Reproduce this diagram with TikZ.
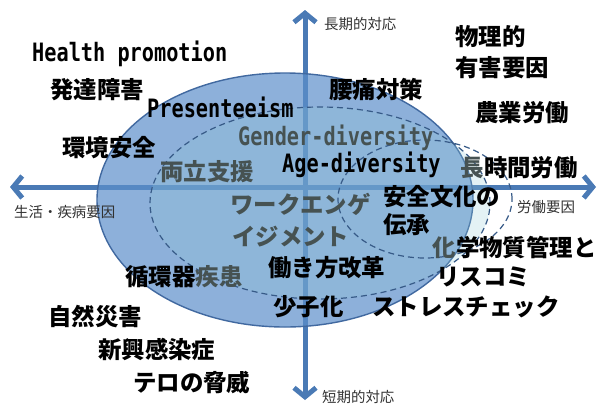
\documentclass[tikz,border=0pt]{standalone}
\usepackage{fontspec}
\usetikzlibrary{arrows.meta}
\newfontfamily\jp{Noto Sans CJK JP}[BoldFont={Noto Sans CJK JP Black}]
\newfontfamily\mono{DejaVu Sans Mono}
\definecolor{axisblue}{RGB}{74,122,181}
\definecolor{bigfill}{RGB}{92,142,202}
\definecolor{bigline}{RGB}{65,105,160}
\definecolor{palefill}{RGB}{147,203,215}
\definecolor{dashline}{RGB}{55,90,135}
\definecolor{dimtext}{RGB}{70,82,82}
\definecolor{labelgray}{RGB}{50,50,50}
\newcommand{\narrowtxt}[1]{\scalebox{0.8}[1]{#1}}

\begin{document}
\begin{tikzpicture}[x=1bp,y=-1bp,
    axis/.style={draw=axisblue,line width=5bp,
        {Straight Barb[length=9bp,width=22bp]}-{Straight Barb[length=9bp,width=22bp]}},
    bigell/.style={fill=bigfill,fill opacity=0.7,draw=bigline,line width=1.4bp},
    innerell/.style={fill=palefill,fill opacity=0.25,draw=dashline,line width=1.2bp,dash pattern=on 6bp off 4bp},
    dashell/.style={draw=dashline,line width=1.2bp,dash pattern=on 6bp off 4bp},
    jpl/.style={font=\jp\bfseries\fontsize{23.5}{28}\selectfont,inner sep=0pt,anchor=base west},
    lat/.style={font=\mono\bfseries\fontsize{25.4}{28}\selectfont,inner sep=0pt,anchor=base west},
    axlab/.style={font=\jp\fontsize{14.5}{16}\selectfont,text=labelgray,inner sep=0pt,anchor=base west},
    dim/.style={text=dimtext}]
                            \useasboundingbox (0,0) rectangle (597,405);
                            % \draw[help lines,step=50] (0,0) grid (597,405);

                            \coordinate (west)  at (10,187);
                            \coordinate (east)  at (596,187);
                            \coordinate (north) at (305,10);
                            \coordinate (south) at (305,400);

                            \draw[axis] (west) -- (east);
                            \draw[axis] (north) -- (south);

                            \filldraw[bigell]   (285,200) ellipse [x radius=188bp, y radius=127bp];
                            \filldraw[innerell] (320,203) ellipse [x radius=170bp, y radius=96bp];
                            \draw[dashell]      (425,199) ellipse [x radius=87bp, y radius=59bp];

                            % axis labels
                            \node[axlab] (l_long)  at (324,29)  {長期的対応};
                            \node[axlab] (l_short) at (322,402) {短期的対応};
                            \node[axlab] (l_life)  at (14,217)  {生活・疾病要因};
                            \node[axlab] (l_work)  at (517,212) {労働要因};

                            \node[lat]     (t_health)  at (32,61)   {\narrowtxt{Health promotion}};
                            \node[lat]     (t_present) at (147,117) {\narrowtxt{Presenteeism}};
                            \node[lat,dim] (t_gender)  at (238,145) {\narrowtxt{Gender-diversity}};
                            \node[lat]     (t_age)     at (282,172) {\narrowtxt{Age-diversity}};

                            \node[jpl]     (t_hattatsu) at (50,98)   {発達障害};
                            \node[jpl]     (t_kankyo)   at (62,156)  {環境安全};
                            \node[jpl,dim] (t_ryoritsu) at (160,180) {両立支援};
                            \node[jpl]     (t_yotsu)    at (329,98)  {腰痛対策};
                            \node[jpl]     (t_butsuri)  at (455,45)  {物理的};
                            \node[jpl]     (t_yugai)    at (455,76)  {有害要因};
                            \node[jpl]     (t_nogyo)    at (475,121) {農業労働};
                            \node[jpl,dim] (t_cho)      at (460,176) {長};
                            \node[jpl]     (t_jikan)    at (t_cho.base east) {時間労働};
                            \node[jpl]     (t_anzen)    at (383,205) {安全文化の};
                            \node[jpl]     (t_densho)   at (383,233) {伝承};
                            \node[jpl,dim] (t_work)     at (230,213) {ワークエンゲ};
                            \node[jpl,dim] (t_gement)   at (232,245) {イジメント};
                            \node[jpl]     (t_hataraki) at (268,276) {働き方改革};
                            \node[jpl]     (t_junkan)   at (125,285) {循環器};
                            \node[jpl,dim] (t_shikkan)  at (t_junkan.base east) {疾患};
                            \node[jpl]     (t_shoshi)   at (273,315) {少子化};
                            \node[jpl]     (t_stress)   at (372,315) {ストレスチェック};
                            \node[jpl,dim] (t_ka)       at (432,256) {化};
                            \node[jpl]     (t_gaku)     at (t_ka.base east) {学物質管理と};
                            \node[jpl]     (t_risucomi) at (436,285) {リスコミ};
                            \node[jpl]     (t_shizen)   at (48,325)  {自然災害};
                            \node[jpl]     (t_shinko)   at (98,358)  {新興感染症};
                            \node[jpl]     (t_tero)     at (133,391) {テロの脅威};
                        \end{tikzpicture}
\end{document}
